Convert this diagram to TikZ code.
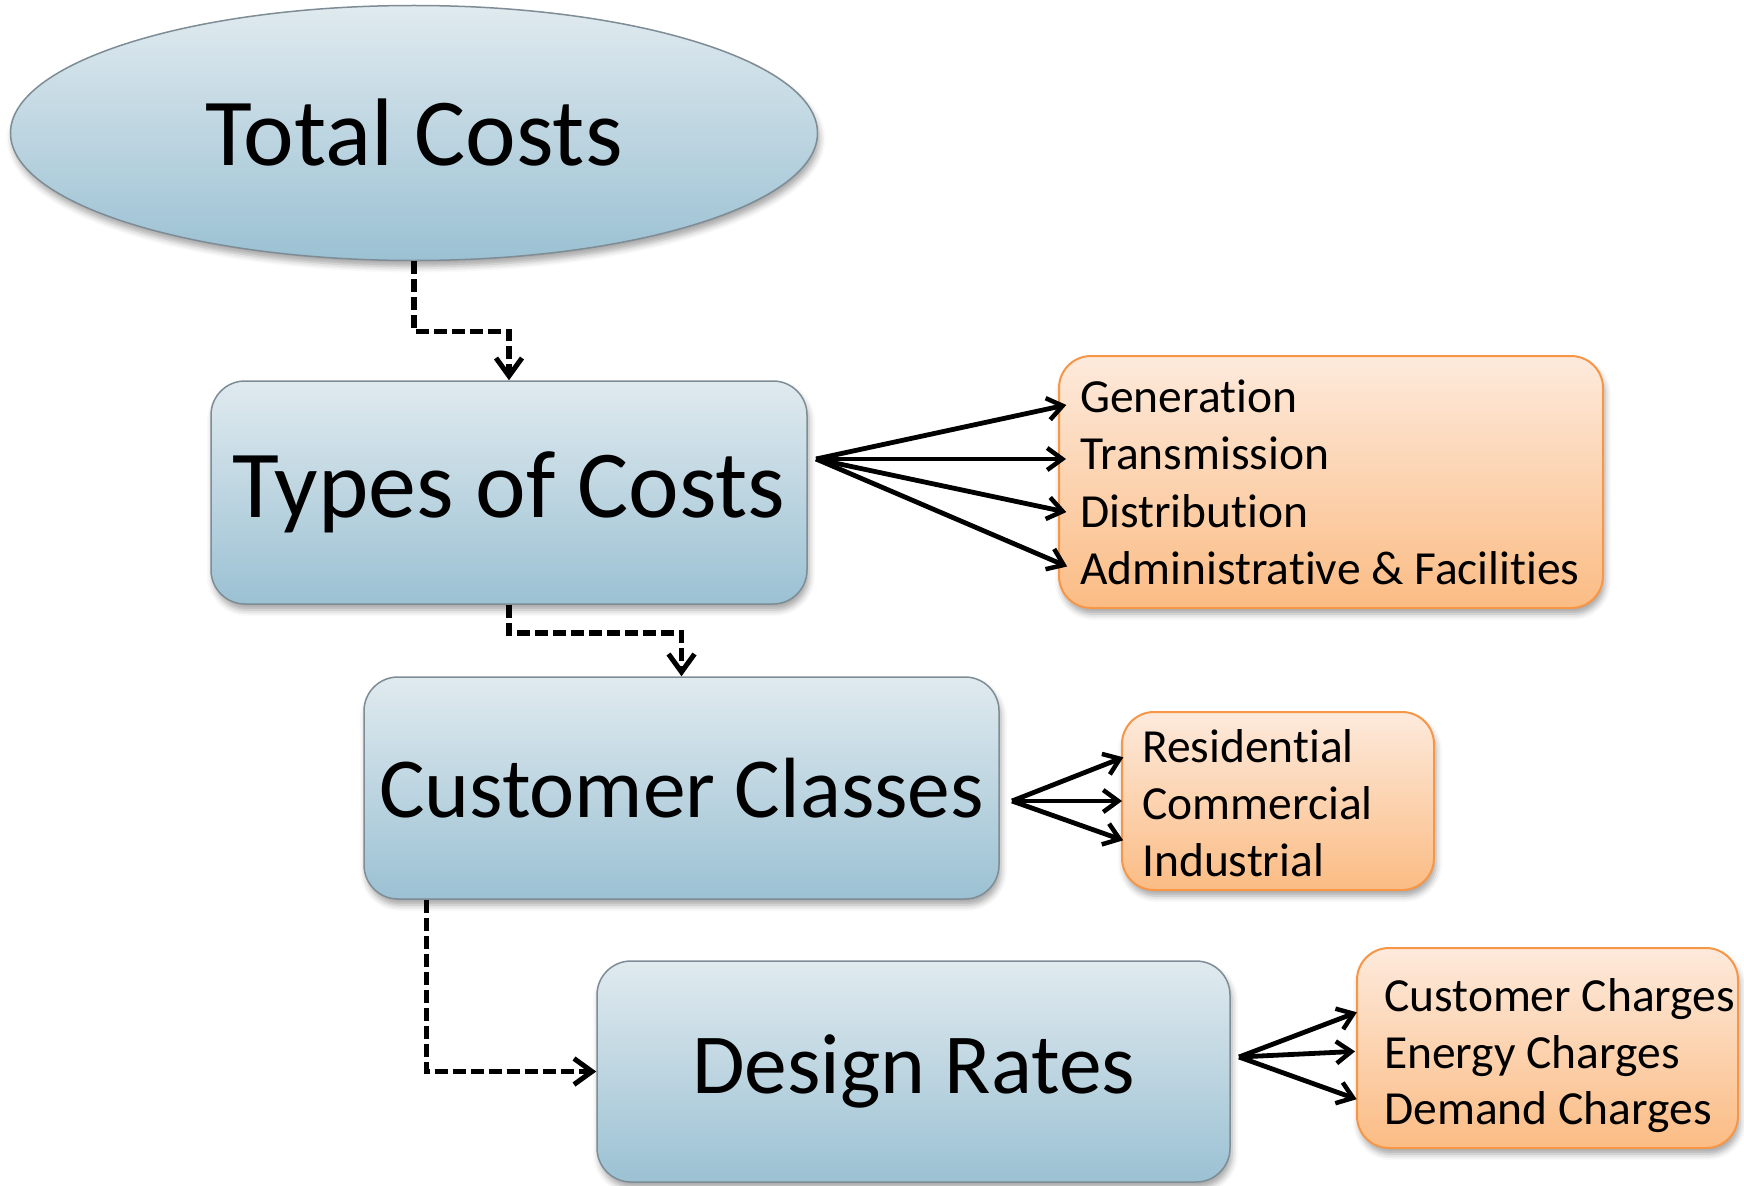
\documentclass[tikz,border=0pt]{standalone}
\usepackage{fontspec}
\setmainfont{Carlito}[Ligatures={NoCommon}]
\usetikzlibrary{arrows.meta,shapes.geometric,shadows.blur}

\definecolor{bluetop}{HTML}{E0EAEF}
\definecolor{bluebot}{HTML}{9BC1D3}
\definecolor{blueedge}{HTML}{7D8C95}
\definecolor{orgtop}{HTML}{FDEADC}
\definecolor{orgbot}{HTML}{FBBC84}
\definecolor{orgedge}{HTML}{F79646}

\tikzset{
  softshadow/.style={blur shadow={shadow xshift=2pt, shadow yshift=-6pt,
      shadow blur radius=6pt, shadow opacity=35}},
  stage/.style={draw=blueedge, line width=1.5pt, top color=bluetop,
      bottom color=bluebot, rounded corners=34pt, softshadow,
      inner sep=0pt, text=black},
  listbox/.style={draw=orgedge, line width=2pt, top color=orgtop,
      bottom color=orgbot, rounded corners=32pt, softshadow, inner sep=0pt},
  item/.style={anchor=base west, inner sep=0pt, text height=30pt,
      text depth=0pt, font=\fontsize{47.5}{57}\selectfont},
  flow/.style={black, line width=5.5pt, dash pattern=on 13pt off 5pt,
      -{Straight Barb[length=18pt, width=26pt, line width=5pt]}},
  fan/.style={black, line width=4.8pt,
      -{Straight Barb[length=15pt, width=22pt, line width=4.5pt]}},
}

\begin{document}
\begin{tikzpicture}[x=1pt, y=-1pt]
\useasboundingbox (0,0) rectangle (1744,1185);

% main stages
\node[stage, ellipse, minimum width=807pt, minimum height=255pt,
      font=\fontsize{96}{112}\selectfont] (total) at (414,133) {Total Costs};
\node[stage, minimum width=596pt, minimum height=223pt,
      font=\fontsize{96}{112}\selectfont] (types) at (509,492.5) {Types of Costs};
\node[stage, minimum width=635pt, minimum height=222pt,
      font=\fontsize{85.5}{100}\selectfont] (classes) at (681.5,788) {Customer Classes};
\node[stage, minimum width=633pt, minimum height=221pt,
      font=\fontsize{85.5}{100}\selectfont] (rates) at (913.5,1071.5) {Design Rates};

% detail lists
\node[listbox, minimum width=544pt, minimum height=252pt] (costlist) at (1331,482) {};
\node[item] (gen)   at (1080,412) {Generation};
\node[item] (trans) at (1080,469) {Transmission};
\node[item] (dist)  at (1080,527) {Distribution};
\node[item] (admin) at (1080,584) {Administrative \& Facilities};

\node[listbox, minimum width=312pt, minimum height=178pt] (classlist) at (1278,801) {};
\node[item] (res) at (1142,762) {Residential};
\node[item] (com) at (1142,819) {Commercial};
\node[item] (ind) at (1142,876) {Industrial};

\node[listbox, minimum width=381pt, minimum height=200pt] (ratelist) at (1547.5,1048) {};
\node[item] (cust)   at (1384,1011) {Customer Charges};
\node[item] (energy) at (1384,1068) {Energy Charges};
\node[item] (demand) at (1384,1124) {Demand Charges};

% fan-out origins
\coordinate (typesfan)   at (816,459);
\coordinate (classesfan) at (1012,801);
\coordinate (ratesfan)   at (1239,1057);

% dashed process flow
\draw[flow] (total.south) -- ++(0,70) -| (types.north);
\draw[flow] (types.south) -- ++(0,28) -| (classes.north);
\draw[flow] ([xshift=63pt]classes.south west) |- (rates.west);

% fan-out arrows
\draw[fan, shorten >=14pt] (typesfan) -- ([yshift=-5pt]gen.west);
\draw[fan, shorten >=14pt] (typesfan) -- ([yshift=-5pt]trans.west);
\draw[fan, shorten >=14pt] (typesfan) -- ([yshift=-3pt]dist.west);
\draw[fan, shorten >=14pt] (typesfan) -- ([yshift=-3pt]admin.west);

\draw[fan, shorten >=20pt] (classesfan) -- ([yshift=-3pt]res.west);
\draw[fan, shorten >=20pt] (classesfan) -- ([yshift=3pt]com.west);
\draw[fan, shorten >=20pt] (classesfan) -- ([yshift=14pt]ind.west);

\draw[fan, shorten >=29pt] (ratesfan) -- ([yshift=-6pt]cust.west);
\draw[fan, shorten >=29pt] (ratesfan) -- ([yshift=3pt]energy.west);
\draw[fan, shorten >=29pt] (ratesfan) -- (demand.west);
\end{tikzpicture}
\end{document}
